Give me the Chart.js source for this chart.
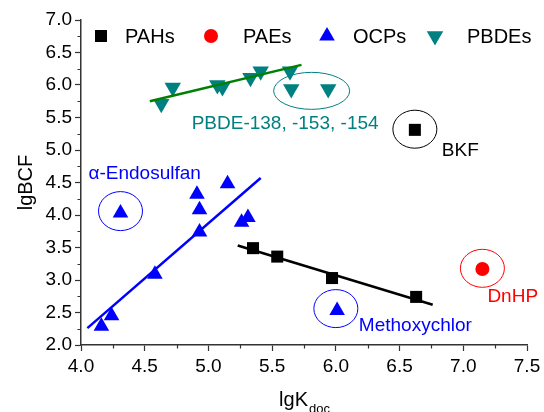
<!DOCTYPE html>
<html>
<head>
<meta charset="utf-8">
<script src="https://cdn.jsdelivr.net/npm/chart.js@4/dist/chart.umd.min.js"></script>
<style>
  html, body { margin: 0; padding: 0; background: #fff; }
  #wrap { width: 544px; height: 412px; }
</style>
</head>
<body>
<div id="wrap"><canvas id="bcfChart" width="544" height="412"></canvas></div>
<script>
// values
const pahX = [5.35, 5.54, 5.97, 6.63, 6.62];
const pahY = [3.49, 3.36, 3.03, 2.74, 5.31];
const paeX = [7.15];
const paeY = [3.17];
const ocpX = [4.16, 4.24, 4.58, 4.93, 4.93, 4.91, 5.15, 5.26, 5.31, 4.31, 6.01];
const ocpY = [2.29, 2.45, 3.09, 3.74, 4.08, 4.32, 4.48, 3.89, 3.96, 4.03, 2.53];
const pbdeX = [4.63, 4.72, 5.07, 5.11, 5.33, 5.41, 5.64, 5.65, 5.94];
const pbdeY = [5.71, 5.96, 6.00, 5.97, 6.11, 6.21, 6.21, 5.94, 5.94];

// fitted lines (end points)
const pahFitX = [5.23, 6.76];
const pahFitY = [3.53, 2.62];
const ocpFitX = [4.05, 5.41];
const ocpFitY = [2.26, 4.57];
const pbdeFitX = [4.54, 5.73];
const pbdeFitY = [5.75, 6.31];

const xTicks = [4.0, 4.5, 5.0, 5.5, 6.0, 6.5, 7.0, 7.5];
const yTicks = [2.0, 2.5, 3.0, 3.5, 4.0, 4.5, 5.0, 5.5, 6.0, 6.5, 7.0];

// highlighted compounds: label text and the point they circle
const noteText = ['PBDE-138, -153, -154', 'α-Endosulfan', 'BKF', 'DnHP', 'Methoxychlor'];
const noteX = [5.81, 4.31, 6.62, 7.15, 6.00];
const noteY = [5.91, 4.06, 5.32, 3.18, 2.56];

const FONT = "'Liberation Sans', Arial, sans-serif";
const pts = (xs, ys) => xs.map((x, i) => ({ x: x, y: ys[i] }));

// look of the annotations (pixels relative to the circled point)
const noteStyle = [
    { color: '#008080', rx: 38, ry: 18.5, dx: -120, dy: 33 },
    { color: '#0000ff', rx: 22, ry: 19.5, dx: -32, dy: -37 },
    { color: '#000000', rx: 22, ry: 19, dx: 27, dy: 22 },
    { color: '#ff0000', rx: 22, ry: 19, dx: 5, dy: 28 },
    { color: '#0000ff', rx: 22, ry: 19, dx: 23, dy: 17 }
];

const notesPlugin = {
    id: 'notes',
    afterDatasetsDraw(chart) {
        const ctx = chart.ctx;
        const xs = chart.scales.x, ys = chart.scales.y;
        ctx.save();
        ctx.font = '19px ' + FONT;
        ctx.textBaseline = 'middle';
        noteText.forEach((t, i) => {
            const s = noteStyle[i];
            const cx = xs.getPixelForValue(noteX[i]);
            const cy = ys.getPixelForValue(noteY[i]);
            ctx.strokeStyle = s.color;
            ctx.lineWidth = 1;
            ctx.beginPath();
            ctx.ellipse(cx, cy, s.rx, s.ry, 0, 0, Math.PI * 2);
            ctx.stroke();
            ctx.fillStyle = s.color;
            ctx.fillText(t, cx + s.dx, cy + s.dy);
        });
        ctx.restore();
    }
};

// legend drawn inside the plot, along the top
const legendPos = [
    { mx: 101, tx: 125 },
    { mx: 211, tx: 243 },
    { mx: 327, tx: 353 },
    { mx: 435, tx: 467 }
];
const legendPlugin = {
    id: 'insideLegend',
    afterDraw(chart) {
        const ctx = chart.ctx;
        const y = chart.chartArea.top + 16;
        const sets = chart.data.datasets.filter(d => d.inLegend);
        ctx.save();
        ctx.font = '20px ' + FONT;
        ctx.textBaseline = 'middle';
        sets.forEach((d, i) => {
            const p = legendPos[i];
            ctx.fillStyle = d.backgroundColor;
            ctx.strokeStyle = d.backgroundColor;
            Chart.helpers.drawPoint(ctx, {
                pointStyle: d.pointStyle,
                radius: d.pointRadius,
                rotation: d.rotation || 0,
                borderWidth: 0
            }, p.mx, y);
            ctx.fillStyle = '#000';
            ctx.fillText(d.label, p.tx, y + 1);
        });
        ctx.restore();
    }
};

// minor ticks and the x title with its subscript
const axisExtras = {
    id: 'axisExtras',
    afterDraw(chart) {
        const ctx = chart.ctx;
        const xs = chart.scales.x, ys = chart.scales.y;
        const a = chart.chartArea;
        ctx.save();
        ctx.strokeStyle = '#333';
        ctx.lineWidth = 1.2;
        ctx.beginPath();
        for (let i = 0; i < xTicks.length - 1; i++) {
            const px = Math.round(xs.getPixelForValue((xTicks[i] + xTicks[i + 1]) / 2)) + 0.5;
            ctx.moveTo(px, a.bottom);
            ctx.lineTo(px, a.bottom + 3.5);
        }
        for (let i = 0; i < yTicks.length - 1; i++) {
            const py = Math.round(ys.getPixelForValue((yTicks[i] + yTicks[i + 1]) / 2)) + 0.5;
            ctx.moveTo(a.left, py);
            ctx.lineTo(a.left - 3.5, py);
        }
        ctx.stroke();

        ctx.fillStyle = '#000';
        ctx.textBaseline = 'alphabetic';
        ctx.font = '20px ' + FONT;
        const main = 'lgK', sub = 'doc';
        const w1 = ctx.measureText(main).width;
        ctx.font = '13px ' + FONT;
        const w2 = ctx.measureText(sub).width;
        const x0 = (a.left + a.right) / 2 - (w1 + w2) / 2;
        ctx.font = '20px ' + FONT;
        ctx.fillText(main, x0, 406);
        ctx.font = '13px ' + FONT;
        ctx.fillText(sub, x0 + w1 + 1, 413);
        ctx.restore();
    }
};

const ctx = document.getElementById('bcfChart').getContext('2d');
new Chart(ctx, {
    type: 'scatter',
    data: {
        datasets: [
            { label: 'PAHs fit', type: 'line', data: pts(pahFitX, pahFitY), borderColor: '#000', borderWidth: 2.5, pointRadius: 0, order: 0 },
            { label: 'OCPs fit', type: 'line', data: pts(ocpFitX, ocpFitY), borderColor: '#0000ff', borderWidth: 2.5, pointRadius: 0, order: 0 },
            { label: 'PBDEs fit', type: 'line', data: pts(pbdeFitX, pbdeFitY), borderColor: '#008000', borderWidth: 2.5, pointRadius: 0, order: 0 },
            { label: 'PAHs', inLegend: true, data: pts(pahX, pahY), pointStyle: 'rect', pointRadius: 8.5, backgroundColor: '#000', borderWidth: 0, order: 1 },
            { label: 'PAEs', inLegend: true, data: pts(paeX, paeY), pointStyle: 'circle', pointRadius: 7, backgroundColor: '#ff0000', borderWidth: 0, order: 1 },
            { label: 'OCPs', inLegend: true, data: pts(ocpX, ocpY), pointStyle: 'triangle', pointRadius: 9, backgroundColor: '#0000ff', borderWidth: 0, order: 1 },
            { label: 'PBDEs', inLegend: true, data: pts(pbdeX, pbdeY), pointStyle: 'triangle', rotation: 180, pointRotation: 180, pointRadius: 9.5, backgroundColor: '#008080', borderWidth: 0, order: 1 }
        ]
    },
    options: {
        responsive: false,
        animation: false,
        layout: { padding: { top: 20, right: 17, left: 0, bottom: 0 } },
        plugins: {
            legend: { display: false },
            tooltip: { enabled: false }
        },
        scales: {
            x: {
                type: 'linear',
                min: 4, max: 7.5,
                afterBuildTicks: (s) => { s.ticks = xTicks.map(v => ({ value: v })); },
                afterFit: (s) => { s.height = 67; s.paddingLeft = 0; s.paddingRight = 0; },
                grid: { drawOnChartArea: false, tickLength: 6, tickColor: '#333', tickWidth: 1.2 },
                border: { color: '#333', width: 1.5 },
                ticks: { padding: 4, color: '#000', font: { family: FONT, size: 19 }, maxRotation: 0,
                    callback: (v) => v.toFixed(1) }
            },
            y: {
                type: 'linear',
                min: 2, max: 7,
                afterBuildTicks: (s) => { s.ticks = yTicks.map(v => ({ value: v })); },
                afterFit: (s) => { s.width = 81; s.paddingTop = 0; s.paddingBottom = 0; },
                grid: { drawOnChartArea: false, tickLength: 6, tickColor: '#333', tickWidth: 1.2 },
                border: { color: '#333', width: 1.5 },
                title: { display: true, text: 'lgBCF', color: '#000', font: { family: FONT, size: 20 }, padding: { top: 14, bottom: 0 } },
                ticks: { padding: 3, color: '#000', font: { family: FONT, size: 19 },
                    callback: (v) => v.toFixed(1) }
            }
        }
    },
    plugins: [notesPlugin, legendPlugin, axisExtras]
});
</script>
</body>
</html>
